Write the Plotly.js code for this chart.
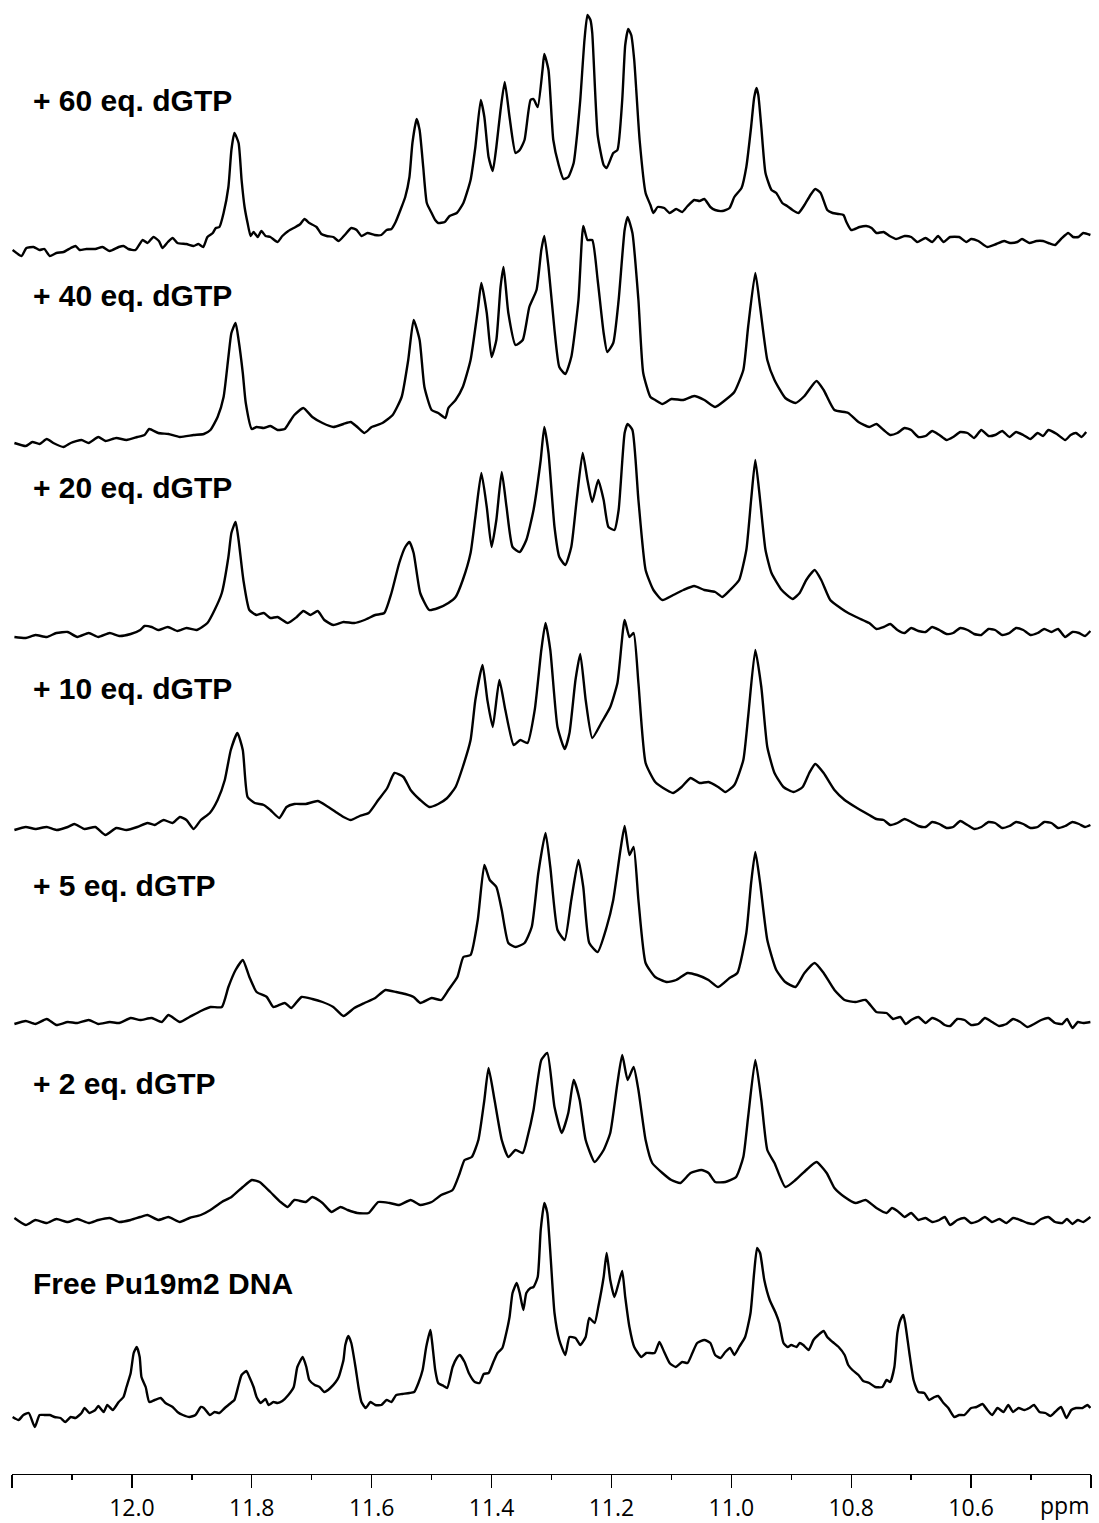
<!DOCTYPE html>
<html>
<head>
<meta charset="utf-8">
<script src="https://cdn.plot.ly/plotly-3.0.1.min.js"></script>
<style>html,body{margin:0;padding:0;background:#fff;}#chart{width:1099px;height:1523px;}</style>
</head>
<body>
<div id="chart"></div>
<script>
// ---- DATA: [chemical shift (ppm), intensity (a.u.)] ----
const labels = ["+ 60 eq. dGTP", "+ 40 eq. dGTP", "+ 20 eq. dGTP", "+ 10 eq. dGTP", "+ 5 eq. dGTP", "+ 2 eq. dGTP", "Free Pu19m2 DNA"];

const spec60 = [[12.199,-2],[12.184,-8],[12.176,0],[12.164,1],[12.154,-2],[12.146,-1],[12.137,-8],[12.126,-5],[12.114,-4],[12.102,0],[12.094,2],[12.087,-2],[12.076,-1],[12.061,-1],[12.049,1],[12.037,-3],[12.022,1],[12.014,2],[12.006,-1],[11.994,-2],[11.982,8],[11.974,5],[11.964,11],[11.955,7],[11.949,0],[11.940,6],[11.932,10],[11.924,5],[11.909,4],[11.897,2],[11.889,4],[11.881,1],[11.874,11],[11.865,15],[11.860,20],[11.854,21],[11.847,35],[11.839,61],[11.834,98],[11.829,115],[11.822,105],[11.817,68],[11.812,41],[11.807,25],[11.802,12],[11.797,16],[11.790,11],[11.784,17],[11.777,12],[11.769,11],[11.757,6],[11.749,12],[11.739,17],[11.727,21],[11.719,24],[11.712,29],[11.704,25],[11.692,21],[11.684,14],[11.675,12],[11.664,11],[11.655,7],[11.645,13],[11.634,20],[11.625,18],[11.617,12],[11.607,15],[11.595,13],[11.584,13],[11.575,18],[11.567,19],[11.560,26],[11.552,38],[11.544,51],[11.537,71],[11.532,105],[11.525,129],[11.520,118],[11.514,81],[11.508,45],[11.500,35],[11.494,28],[11.489,25],[11.478,26],[11.470,32],[11.458,35],[11.447,45],[11.435,68],[11.427,101],[11.418,148],[11.412,131],[11.405,91],[11.398,77],[11.392,101],[11.385,138],[11.378,166],[11.370,131],[11.360,95],[11.353,98],[11.345,108],[11.335,148],[11.330,149],[11.323,141],[11.315,178],[11.312,194],[11.305,178],[11.297,108],[11.288,83],[11.280,69],[11.272,71],[11.263,85],[11.257,115],[11.252,148],[11.245,208],[11.240,233],[11.235,228],[11.232,215],[11.223,113],[11.213,83],[11.208,80],[11.197,95],[11.190,98],[11.182,148],[11.177,203],[11.172,219],[11.167,213],[11.162,188],[11.153,108],[11.143,55],[11.135,43],[11.130,35],[11.123,41],[11.112,40],[11.103,35],[11.092,39],[11.082,36],[11.073,42],[11.062,48],[11.053,47],[11.045,49],[11.035,41],[11.027,38],[11.015,37],[11.003,40],[10.995,51],[10.983,60],[10.975,81],[10.967,121],[10.962,150],[10.958,160],[10.955,153],[10.950,121],[10.943,75],[10.933,58],[10.925,55],[10.915,45],[10.907,42],[10.898,38],[10.888,35],[10.878,43],[10.868,53],[10.860,59],[10.851,55],[10.840,38],[10.831,35],[10.821,34],[10.813,33],[10.808,26],[10.800,18],[10.786,21],[10.775,22],[10.766,20],[10.758,15],[10.746,16],[10.736,12],[10.725,9],[10.711,12],[10.700,11],[10.690,6],[10.676,10],[10.665,6],[10.655,12],[10.646,6],[10.635,11],[10.620,11],[10.608,6],[10.600,9],[10.588,7],[10.573,1],[10.558,4],[10.545,7],[10.535,5],[10.523,6],[10.515,9],[10.503,5],[10.491,7],[10.480,7],[10.471,5],[10.460,3],[10.450,9],[10.438,15],[10.430,11],[10.421,11],[10.413,15],[10.401,13]];

const spec40 = [[12.196,-3],[12.177,-6],[12.166,-2],[12.154,-4],[12.142,1],[12.131,-3],[12.114,-7],[12.102,-3],[12.084,0],[12.072,-3],[12.056,3],[12.044,-1],[12.026,2],[12.009,0],[11.991,3],[11.979,5],[11.971,11],[11.956,7],[11.939,6],[11.920,3],[11.897,5],[11.880,6],[11.869,10],[11.857,23],[11.847,43],[11.839,83],[11.834,107],[11.827,117],[11.822,100],[11.815,67],[11.810,37],[11.800,11],[11.792,13],[11.780,12],[11.769,14],[11.757,10],[11.745,11],[11.737,18],[11.729,25],[11.714,32],[11.699,23],[11.682,17],[11.664,13],[11.647,16],[11.635,18],[11.624,13],[11.612,7],[11.600,13],[11.582,17],[11.565,25],[11.550,43],[11.539,80],[11.530,120],[11.520,100],[11.512,53],[11.500,30],[11.489,27],[11.477,22],[11.472,32],[11.460,40],[11.448,53],[11.435,80],[11.423,130],[11.417,157],[11.408,127],[11.400,83],[11.392,100],[11.385,153],[11.380,173],[11.372,127],[11.360,95],[11.348,100],[11.337,133],[11.325,150],[11.317,190],[11.312,204],[11.305,173],[11.295,110],[11.287,73],[11.277,66],[11.267,83],[11.255,140],[11.247,214],[11.240,200],[11.232,200],[11.223,160],[11.213,107],[11.207,88],[11.197,97],[11.188,140],[11.178,210],[11.173,223],[11.165,207],[11.155,140],[11.147,67],[11.135,43],[11.127,40],[11.115,36],[11.100,41],[11.080,40],[11.062,44],[11.045,40],[11.027,33],[11.010,40],[10.995,48],[10.980,70],[10.972,113],[10.960,167],[10.952,133],[10.940,80],[10.928,60],[10.910,42],[10.893,37],[10.878,44],[10.858,59],[10.846,50],[10.828,30],[10.805,27],[10.788,18],[10.770,13],[10.758,16],[10.746,10],[10.735,5],[10.723,7],[10.711,12],[10.700,10],[10.688,3],[10.676,4],[10.665,9],[10.653,5],[10.641,0],[10.630,3],[10.618,8],[10.606,7],[10.595,2],[10.583,10],[10.571,4],[10.560,5],[10.548,9],[10.536,3],[10.525,8],[10.513,5],[10.501,1],[10.489,7],[10.480,4],[10.471,10],[10.457,6],[10.443,0],[10.434,5],[10.425,7],[10.416,3],[10.408,8]];

const spec20 = [[12.196,-2],[12.177,-3],[12.161,0],[12.142,-2],[12.126,2],[12.107,3],[12.091,-2],[12.072,2],[12.056,-2],[12.037,2],[12.021,-1],[12.002,1],[11.986,5],[11.979,9],[11.967,8],[11.956,5],[11.940,8],[11.924,4],[11.909,7],[11.892,5],[11.874,12],[11.862,25],[11.850,42],[11.839,78],[11.834,102],[11.827,113],[11.822,95],[11.814,55],[11.804,25],[11.792,20],[11.780,22],[11.769,17],[11.757,18],[11.740,12],[11.725,18],[11.714,24],[11.702,20],[11.690,24],[11.679,15],[11.664,10],[11.647,13],[11.629,12],[11.612,15],[11.594,20],[11.579,22],[11.567,42],[11.554,72],[11.544,88],[11.537,93],[11.530,82],[11.519,42],[11.504,25],[11.489,27],[11.472,32],[11.460,38],[11.448,55],[11.435,82],[11.427,118],[11.417,162],[11.408,128],[11.400,88],[11.392,115],[11.383,163],[11.375,128],[11.365,88],[11.353,83],[11.342,95],[11.330,125],[11.318,175],[11.312,208],[11.305,182],[11.295,108],[11.287,78],[11.277,70],[11.267,88],[11.258,135],[11.248,182],[11.240,155],[11.232,133],[11.222,155],[11.213,135],[11.205,108],[11.195,105],[11.188,125],[11.178,202],[11.173,211],[11.165,205],[11.155,135],[11.143,65],[11.130,45],[11.115,35],[11.097,40],[11.080,45],[11.062,49],[11.045,45],[11.027,43],[11.015,38],[11.002,45],[10.987,55],[10.975,85],[10.967,135],[10.960,175],[10.952,135],[10.943,85],[10.933,62],[10.916,45],[10.898,36],[10.886,42],[10.875,55],[10.861,65],[10.850,55],[10.835,35],[10.818,27],[10.805,22],[10.788,17],[10.770,12],[10.758,6],[10.746,8],[10.735,11],[10.723,5],[10.711,2],[10.700,7],[10.688,4],[10.676,3],[10.665,8],[10.653,5],[10.641,1],[10.630,2],[10.618,7],[10.606,5],[10.595,1],[10.583,0],[10.571,6],[10.560,5],[10.548,0],[10.536,2],[10.525,7],[10.513,5],[10.501,0],[10.489,2],[10.478,6],[10.466,3],[10.455,6],[10.443,-2],[10.431,3],[10.420,2],[10.410,-1],[10.401,4]];

const spec10 = [[12.196,-3],[12.177,0],[12.161,-2],[12.142,0],[12.126,-3],[12.107,0],[12.096,3],[12.079,-2],[12.061,0],[12.044,-8],[12.026,-1],[12.009,-3],[11.991,0],[11.974,4],[11.962,2],[11.947,7],[11.932,4],[11.920,10],[11.909,7],[11.897,-2],[11.885,7],[11.870,14],[11.857,27],[11.845,47],[11.835,77],[11.824,94],[11.815,77],[11.807,30],[11.795,24],[11.780,22],[11.769,17],[11.754,9],[11.742,20],[11.729,23],[11.710,23],[11.690,26],[11.675,21],[11.660,15],[11.647,10],[11.635,7],[11.620,11],[11.605,14],[11.589,27],[11.574,39],[11.562,54],[11.547,50],[11.535,37],[11.519,27],[11.504,20],[11.489,23],[11.474,29],[11.460,40],[11.448,60],[11.435,87],[11.427,127],[11.415,162],[11.407,127],[11.398,100],[11.387,147],[11.377,117],[11.363,82],[11.352,87],[11.340,84],[11.328,117],[11.317,177],[11.310,204],[11.302,177],[11.290,100],[11.278,78],[11.270,94],[11.260,147],[11.252,173],[11.243,127],[11.232,89],[11.217,104],[11.202,120],[11.190,144],[11.178,207],[11.170,190],[11.163,194],[11.155,144],[11.143,64],[11.127,45],[11.108,37],[11.097,34],[11.083,40],[11.068,49],[11.053,44],[11.038,45],[11.022,40],[11.010,35],[10.995,42],[10.980,67],[10.972,110],[10.960,177],[10.950,140],[10.940,80],[10.928,54],[10.913,40],[10.896,35],[10.881,40],[10.870,54],[10.860,63],[10.846,54],[10.828,37],[10.811,27],[10.793,20],[10.770,12],[10.758,8],[10.746,7],[10.735,2],[10.723,4],[10.711,8],[10.700,5],[10.688,1],[10.676,0],[10.665,5],[10.653,3],[10.641,-1],[10.630,0],[10.618,6],[10.606,2],[10.595,-2],[10.583,0],[10.571,5],[10.560,4],[10.548,-1],[10.536,1],[10.525,5],[10.513,3],[10.501,-1],[10.489,0],[10.478,5],[10.466,4],[10.455,-1],[10.443,1],[10.431,5],[10.420,3],[10.410,0],[10.401,2]];

const spec5 = [[12.196,-2],[12.177,1],[12.161,-2],[12.142,3],[12.126,-3],[12.107,0],[12.091,-1],[12.072,2],[12.056,-2],[12.037,0],[12.021,-1],[12.002,4],[11.986,2],[11.967,4],[11.950,0],[11.939,7],[11.920,0],[11.904,5],[11.885,11],[11.869,15],[11.850,15],[11.839,35],[11.827,52],[11.815,62],[11.804,45],[11.792,30],[11.775,25],[11.764,15],[11.745,19],[11.734,14],[11.717,25],[11.699,23],[11.682,20],[11.664,15],[11.647,6],[11.629,14],[11.612,19],[11.594,24],[11.577,32],[11.559,30],[11.544,28],[11.530,25],[11.519,19],[11.500,24],[11.484,22],[11.472,32],[11.457,45],[11.447,65],[11.435,67],[11.423,102],[11.412,157],[11.403,142],[11.392,135],[11.383,112],[11.372,79],[11.360,75],[11.345,79],[11.333,95],[11.322,149],[11.310,189],[11.302,155],[11.290,92],[11.278,82],[11.267,122],[11.255,162],[11.247,135],[11.237,79],[11.223,70],[11.208,95],[11.197,122],[11.185,172],[11.178,196],[11.170,167],[11.163,175],[11.155,122],[11.143,59],[11.127,45],[11.108,40],[11.092,42],[11.073,49],[11.057,47],[11.038,42],[11.022,35],[11.003,44],[10.990,49],[10.975,89],[10.967,139],[10.960,170],[10.952,139],[10.940,82],[10.925,52],[10.910,40],[10.893,35],[10.878,49],[10.861,59],[10.846,49],[10.828,32],[10.811,22],[10.793,20],[10.776,22],[10.758,10],[10.741,9],[10.730,3],[10.718,5],[10.709,-2],[10.700,2],[10.688,5],[10.676,-1],[10.665,4],[10.653,1],[10.644,-3],[10.635,-4],[10.623,3],[10.611,2],[10.600,-3],[10.588,-2],[10.577,4],[10.565,0],[10.553,-4],[10.541,-2],[10.530,3],[10.518,0],[10.506,-5],[10.495,-2],[10.483,2],[10.471,4],[10.460,-1],[10.448,-2],[10.440,3],[10.431,-6],[10.422,0],[10.413,-1],[10.401,0]];

const spec2 = [[12.196,2],[12.177,-5],[12.161,0],[12.142,-3],[12.126,1],[12.107,-2],[12.091,1],[12.072,-3],[12.056,0],[12.037,2],[12.021,-2],[12.002,0],[11.986,3],[11.974,5],[11.956,0],[11.939,3],[11.920,-2],[11.904,2],[11.885,5],[11.869,10],[11.850,18],[11.834,23],[11.815,33],[11.800,40],[11.787,38],[11.769,28],[11.752,18],[11.740,13],[11.729,20],[11.710,18],[11.699,23],[11.682,17],[11.667,8],[11.652,13],[11.640,10],[11.624,7],[11.605,7],[11.589,18],[11.570,17],[11.554,15],[11.535,20],[11.519,15],[11.500,18],[11.484,25],[11.465,30],[11.453,47],[11.445,60],[11.433,63],[11.422,80],[11.412,120],[11.405,152],[11.395,120],[11.383,80],[11.372,63],[11.360,70],[11.348,67],[11.340,83],[11.330,110],[11.317,160],[11.307,167],[11.295,113],[11.283,87],[11.272,107],[11.263,140],[11.253,120],[11.243,80],[11.228,58],[11.213,70],[11.202,87],[11.190,137],[11.182,165],[11.173,140],[11.163,153],[11.155,130],[11.143,80],[11.132,57],[11.115,47],[11.100,40],[11.085,37],[11.068,47],[11.050,50],[11.038,47],[11.027,38],[11.010,38],[10.992,43],[10.980,63],[10.972,103],[10.960,160],[10.950,120],[10.940,70],[10.928,57],[10.910,33],[10.893,40],[10.875,50],[10.858,58],[10.841,47],[10.828,32],[10.811,23],[10.793,17],[10.776,20],[10.758,12],[10.741,7],[10.732,12],[10.723,9],[10.711,3],[10.700,7],[10.688,0],[10.676,2],[10.665,-2],[10.653,0],[10.644,3],[10.635,-5],[10.623,0],[10.611,2],[10.600,-3],[10.588,-1],[10.577,3],[10.565,-2],[10.553,1],[10.541,-3],[10.530,2],[10.518,0],[10.506,-3],[10.495,-4],[10.483,1],[10.471,3],[10.460,-2],[10.448,-3],[10.440,1],[10.431,-4],[10.422,0],[10.413,-2],[10.401,3]];

const specFree = [[12.199,-5],[12.189,-8],[12.181,-3],[12.172,-1],[12.162,-15],[12.154,-3],[12.146,-3],[12.137,-3],[12.129,-5],[12.119,-6],[12.111,-10],[12.102,-5],[12.094,-6],[12.084,-1],[12.079,4],[12.071,-1],[12.061,2],[12.056,6],[12.047,0],[12.041,7],[12.032,2],[12.022,10],[12.014,15],[12.009,25],[12.002,39],[11.997,59],[11.992,65],[11.987,55],[11.984,35],[11.977,25],[11.971,10],[11.962,12],[11.952,14],[11.944,9],[11.932,5],[11.924,0],[11.915,-3],[11.904,-5],[11.894,-3],[11.885,5],[11.880,4],[11.870,-3],[11.862,0],[11.854,-1],[11.845,4],[11.835,9],[11.829,12],[11.822,27],[11.817,37],[11.809,41],[11.804,35],[11.797,25],[11.792,15],[11.785,9],[11.777,13],[11.772,7],[11.764,10],[11.757,9],[11.749,11],[11.739,17],[11.730,25],[11.724,45],[11.715,55],[11.709,45],[11.704,32],[11.695,27],[11.687,25],[11.679,20],[11.669,24],[11.660,30],[11.655,35],[11.647,52],[11.644,67],[11.639,76],[11.634,69],[11.627,45],[11.622,25],[11.617,10],[11.610,4],[11.602,10],[11.594,7],[11.584,7],[11.575,12],[11.567,10],[11.559,17],[11.549,18],[11.537,19],[11.529,20],[11.522,29],[11.515,42],[11.509,65],[11.502,82],[11.499,69],[11.494,42],[11.489,29],[11.480,26],[11.474,24],[11.465,45],[11.458,54],[11.453,57],[11.445,50],[11.438,39],[11.428,30],[11.420,29],[11.413,38],[11.405,39],[11.397,50],[11.390,59],[11.382,64],[11.377,75],[11.370,95],[11.365,119],[11.358,129],[11.353,119],[11.347,102],[11.342,119],[11.335,124],[11.330,125],[11.323,135],[11.318,182],[11.312,209],[11.307,199],[11.302,160],[11.295,99],[11.287,72],[11.277,57],[11.270,75],[11.260,74],[11.252,67],[11.243,75],[11.237,94],[11.228,89],[11.222,105],[11.213,135],[11.208,159],[11.202,132],[11.195,115],[11.188,129],[11.182,141],[11.177,115],[11.170,85],[11.162,65],[11.150,55],[11.142,59],[11.128,59],[11.120,70],[11.112,60],[11.103,49],[11.093,45],[11.082,50],[11.073,49],[11.065,59],[11.057,69],[11.045,72],[11.035,69],[11.027,57],[11.018,54],[11.010,60],[11.002,64],[10.995,57],[10.987,65],[10.977,75],[10.968,99],[10.962,139],[10.957,164],[10.952,159],[10.945,132],[10.936,112],[10.926,99],[10.920,89],[10.913,69],[10.906,65],[10.900,67],[10.891,65],[10.886,69],[10.880,67],[10.871,62],[10.863,72],[10.855,77],[10.846,81],[10.840,75],[10.831,70],[10.821,65],[10.811,57],[10.805,47],[10.798,42],[10.788,37],[10.780,31],[10.770,29],[10.760,25],[10.748,25],[10.741,32],[10.735,30],[10.728,45],[10.723,79],[10.718,92],[10.713,97],[10.710,89],[10.703,59],[10.696,32],[10.688,20],[10.678,19],[10.670,12],[10.661,15],[10.655,16],[10.646,9],[10.638,4],[10.628,-5],[10.620,-3],[10.611,-3],[10.600,4],[10.591,5],[10.581,8],[10.573,2],[10.565,-3],[10.556,4],[10.546,0],[10.538,7],[10.530,0],[10.521,4],[10.511,2],[10.503,4],[10.495,7],[10.486,0],[10.476,-1],[10.468,-4],[10.460,0],[10.450,5],[10.441,-6],[10.433,2],[10.425,4],[10.414,4],[10.406,7],[10.401,4]];

const majorTicks = [12.2, 12.0, 11.8, 11.6, 11.4, 11.2, 11.0, 10.8, 10.6, 10.4];
const majorTickText = ["", "12.0", "11.8", "11.6", "11.4", "11.2", "11.0", "10.8", "10.6", ""];
const minorTicks = [12.1, 11.9, 11.7, 11.5, 11.3, 11.1, 10.9, 10.7, 10.5];
const axisUnit = "ppm";

// ---- layout (stacking offsets are presentation only) ----
const spectra = [spec60, spec40, spec20, spec10, spec5, spec2, specFree];
const stackOffset = [1226, 1034, 839, 647, 452, 254, 62];
const labelPos = [1374, 1179, 987, 786, 589, 391, 191];

const traces = spectra.map((s, i) => ({
  x: s.map(p => p[0]),
  y: s.map(p => p[1] + stackOffset[i]),
  type: 'scatter', mode: 'lines',
  line: {color: '#000', width: 2.4, shape: 'spline', smoothing: 0.5},
  hoverinfo: 'skip', showlegend: false
}));

const annotations = labels.map((t, i) => ({
  x: 12.168, y: labelPos[i], xref: 'x', yref: 'y',
  xanchor: 'left', yanchor: 'middle', showarrow: false,
  text: '<b>' + t + '</b>',
  font: {family: 'Liberation Sans, Arial, sans-serif', size: 30, color: '#000'}
}));
annotations.push({
  x: 10.4, xref: 'x', y: 0, yref: 'paper', xanchor: 'right', yanchor: 'middle',
  yshift: -31, showarrow: false, text: axisUnit,
  font: {family: 'Open Sans, Noto Sans, sans-serif', size: 23, color: '#000'}
});

const layout = {
  width: 1099, height: 1523,
  margin: {l: 12, r: 8, t: 0, b: 49, pad: 0},
  paper_bgcolor: '#fff', plot_bgcolor: '#fff',
  showlegend: false,
  xaxis: {
    range: [12.2, 10.4], tickmode: 'array', tickvals: majorTicks, ticktext: majorTickText,
    ticks: 'outside', ticklen: 13, tickwidth: 1.4, tickcolor: '#000',
    showline: true, linecolor: '#000', linewidth: 1.4, mirror: false,
    showgrid: false, zeroline: false,
    tickfont: {family: 'Open Sans, Noto Sans, sans-serif', size: 23, color: '#000'},
    minor: {tickmode: 'array', tickvals: minorTicks, ticks: 'outside', ticklen: 5, tickwidth: 1.4, tickcolor: '#000', showgrid: false},
    fixedrange: true
  },
  yaxis: {range: [0, 1474], visible: false, showgrid: false, zeroline: false, fixedrange: true},
  annotations: annotations
};

Plotly.newPlot('chart', traces, layout, {displayModeBar: false, staticPlot: true});
</script>
</body>
</html>
